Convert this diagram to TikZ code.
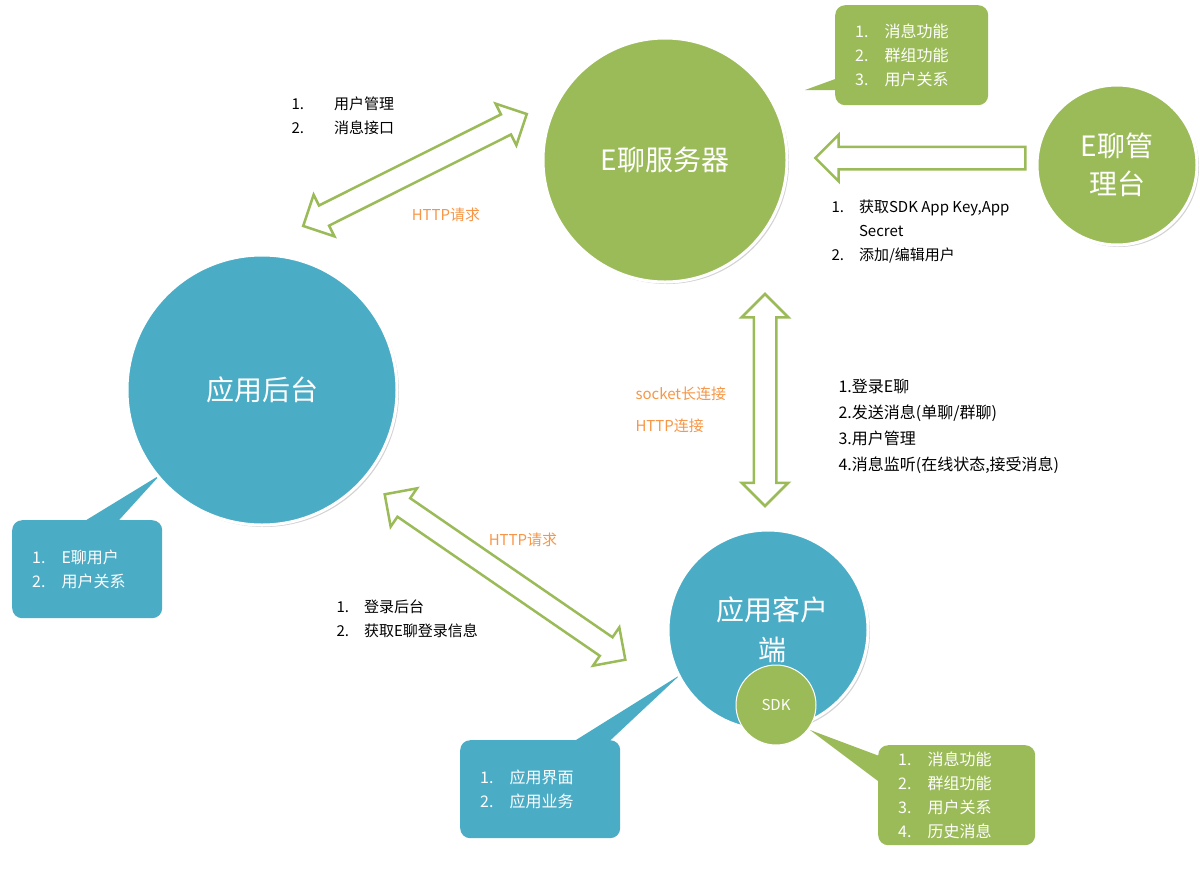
\documentclass[tikz,border=0pt]{standalone}
\usepackage{fontspec}
\setmainfont{Noto Sans CJK SC}
\usetikzlibrary{shapes.arrows,shadows}
\definecolor{gr}{HTML}{9BBB59}
\definecolor{bl}{HTML}{4BACC6}
\definecolor{org}{HTML}{F79646}
\begin{document}
\begin{tikzpicture}[x=1pt,y=-1pt,
 circ/.style={circle,draw=white,line width=3pt,drop shadow={opacity=0.35,shadow xshift=2pt,shadow yshift=-2pt},text=white,align=center,inner sep=0},
 box/.style={rounded corners=10pt,draw=none,text=white,align=left,font=\fontsize{16}{24}\selectfont,inner xsep=20pt},
 dbl/.style={double arrow,draw=gr,line width=2.5pt,fill=white,double arrow head extend=12pt,inner xsep=0,inner ysep=10pt,double arrow head indent=0pt},
 sgl/.style={single arrow,draw=gr,line width=2.5pt,fill=white,single arrow head extend=12pt,inner xsep=0,inner ysep=10pt},
 txt/.style={align=left,font=\fontsize{15}{24}\selectfont,anchor=north west},
 lab/.style={text=org,font=\fontsize{15}{18}\selectfont}]
\useasboundingbox (0,0) rectangle (1200,887);
% callout boxes with tails
\fill[gr] (845,90) -- (805,90) -- (860,70) -- cycle;
\node[box,fill=gr,text width=113pt,minimum height=100pt,anchor=north west] (b1) at (835,5) {1.\quad 消息功能\\2.\quad 群组功能\\3.\quad 用户关系};
\fill[bl] (70,530) -- (160,475) -- (110,530) -- cycle;
\node[box,fill=bl,text width=110pt,minimum height=98pt,anchor=north west] (b2) at (12,520) {1.\quad E聊用户\\2.\quad 用户关系};
\fill[bl] (560,750) -- (680,675) -- (600,750) -- cycle;
\node[box,fill=bl,text width=120pt,minimum height=98pt,anchor=north west] (b3) at (460,740) {1.\quad 应用界面\\2.\quad 应用业务};
\fill[gr] (890,760) -- (810,730) -- (890,790) -- cycle;
\node[box,fill=gr,text width=117pt,minimum height=100pt,anchor=north west] (b4) at (878,745) {1.\quad 消息功能\\2.\quad 群组功能\\3.\quad 用户关系\\4.\quad 历史消息};
% circles
\node[circ,fill=gr,minimum size=244pt,font=\fontsize{28}{34}\selectfont] (srv) at (665,160) {E聊服务器};
\node[circ,fill=gr,minimum size=160pt,font=\fontsize{28}{38}\selectfont] (adm) at (1117,165) {E聊管\\理台};
\node[circ,fill=bl,minimum size=270pt,font=\fontsize{28}{34}\selectfont] (bk) at (262,390) {应用后台};
\node[circ,fill=bl,minimum size=200pt] (cl) at (768,630) {};
\node[text=white,font=\fontsize{28}{40}\selectfont,align=center] (clt) at (772,630) {应用客户\\端};
\node[circle,fill=gr,draw=white,line width=1pt,minimum size=80pt,text=white,font=\fontsize{15}{18}\selectfont] (sdk) at (776,705) {SDK};
% arrows
\node[dbl,minimum height=250pt,rotate=26.6] (a1) at (415,170) {};
\node[dbl,minimum height=212pt,rotate=90] (a2) at (765,400) {};
\node[dbl,minimum height=292pt,rotate=-34.5] (a3) at (505,577) {};
\node[sgl,minimum height=210pt,rotate=180] (a4) at (926,158) {};
% texts
\node[txt] (t1) at (288,93) {1.\qquad 用户管理\\2.\qquad 消息接口};
\node[lab] (l1) at (446,215) {HTTP请求};
\node[txt] (t2) at (828,196) {1.\quad 获取SDK App Key,App\\\phantom{1.\quad }Secret\\2.\quad 添加/编辑用户};
\node[lab,align=left,anchor=west] (l2) at (632,394) {socket长连接};
\node[lab,anchor=west] (l3) at (632,426) {HTTP连接};
\node[txt,font=\fontsize{16}{26}\selectfont] (t3) at (835,376) {1.登录E聊\\2.发送消息(单聊/群聊)\\3.用户管理\\4.消息监听(在线状态,接受消息)};
\node[lab] (l4) at (523,540) {HTTP请求};
\node[txt] (t4) at (333,596) {1.\quad 登录后台\\2.\quad 获取E聊登录信息};
\end{tikzpicture}
\end{document}
